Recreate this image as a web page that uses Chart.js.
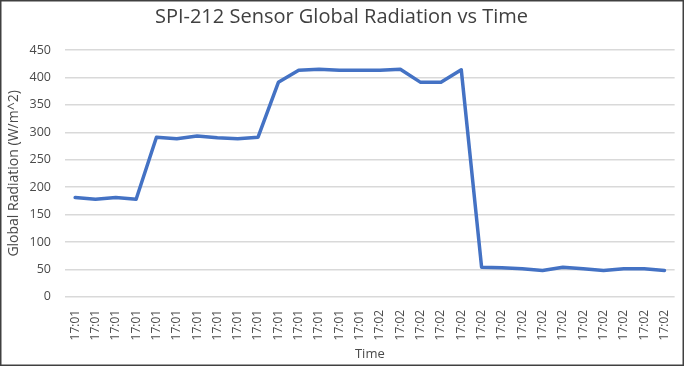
<!DOCTYPE html>
<html>
<head>
<meta charset="utf-8">
<script src="https://cdn.jsdelivr.net/npm/chart.js@4.4.0/dist/chart.umd.min.js"></script>
<style>
  html, body { margin: 0; padding: 0; background: #fff; }
  #wrap { position: relative; width: 684px; height: 366px; }
</style>
</head>
<body>
<div id="wrap"><canvas id="chart" width="684" height="366"></canvas></div>
<script>
const timeLabels = [
  "17:01", "17:01", "17:01", "17:01", "17:01", "17:01", "17:01", "17:01",
  "17:01", "17:01", "17:01", "17:01", "17:01", "17:01", "17:01",
  "17:02", "17:02", "17:02", "17:02", "17:02", "17:02", "17:02", "17:02",
  "17:02", "17:02", "17:02", "17:02", "17:02", "17:02", "17:02"
];
const radiation = [
  181, 178, 181, 178, 291, 288, 293, 290, 288, 291,
  391, 413, 415, 413, 413, 413, 415, 391, 391, 414,
  54, 53, 51, 48, 54, 51, 48, 51, 51, 48
];
const yMin = 0;
const yMax = 450;
const yStep = 50;

const textColor = "#4a4a4a";
const fontFamily = "'Open Sans', 'Liberation Sans', sans-serif";

const frameBorder = {
  id: "frameBorder",
  afterDraw(chart) {
    const ctx = chart.ctx;
    ctx.save();
    ctx.strokeStyle = "#404040";
    ctx.lineWidth = 1.5;
    ctx.strokeRect(0.75, 0.75, chart.width - 1.5, chart.height - 1.5);
    ctx.restore();
  },
};

new Chart(document.getElementById("chart"), {
  type: "line",
  data: {
    labels: timeLabels,
    datasets: [
      {
        label: "Global Radiation",
        data: radiation,
        borderColor: "#4472C4",
        backgroundColor: "#4472C4",
        borderWidth: 3.5,
        pointRadius: 0,
        tension: 0,
        borderJoinStyle: "round",
        borderCapStyle: "round",
      },
    ],
  },
  options: {
    responsive: false,
    animation: false,
    layout: { padding: { left: 6, right: 7, top: 4, bottom: 4 } },
    plugins: {
      legend: { display: false },
      tooltip: { enabled: false },
      title: {
        display: true,
        text: "SPI-212 Sensor Global Radiation vs Time",
        color: "#404040",
        font: { family: fontFamily, size: 20, weight: "normal" },
        padding: { top: 1, bottom: 21 },
      },
    },
    scales: {
      x: {
        offset: true,
        grid: { display: false },
        border: { display: false },
        ticks: {
          color: textColor,
          font: { family: fontFamily, size: 12 },
          autoSkip: false,
          minRotation: 90,
          maxRotation: 90,
          padding: 5,
        },
        title: {
          display: true,
          text: "Time",
          color: textColor,
          font: { family: fontFamily, size: 13 },
          padding: { top: 1, bottom: 0 },
        },
      },
      y: {
        min: yMin,
        max: yMax,
        grid: { color: "#d9d9d9", lineWidth: 1.5, drawTicks: false },
        border: { display: false },
        ticks: {
          stepSize: yStep,
          color: textColor,
          font: { family: fontFamily, size: 12.5 },
          padding: 14,
        },
        title: {
          display: true,
          text: "Global Radiation (W/m^2)",
          color: textColor,
          font: { family: fontFamily, size: 14 },
          padding: { top: 0, bottom: 2 },
        },
        afterFit(scale) {
          scale.width = 59;
        },
      },
    },
  },
  plugins: [frameBorder],
});
</script>
</body>
</html>
